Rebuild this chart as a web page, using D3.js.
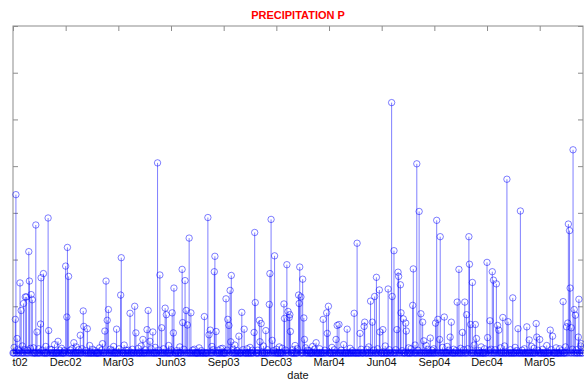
<!DOCTYPE html>
<html>
<head>
<meta charset="utf-8">
<script src="https://cdn.jsdelivr.net/npm/d3@7"></script>
<style>
  body { margin: 0; background: #fff; }
  svg { display: block; font-family: "Liberation Sans", Arial, sans-serif; }
</style>
</head>
<body>
<svg id="chart" width="584" height="380"></svg>
<script>
// Daily precipitation record, day index counted from 1 Oct 2002
var firstDay = "2002-10-01";
var lastDay = "2005-05-31";
var axisEnd = "2005-06-01";

// wet days
var wetDay = [4, 5, 7, 12, 14, 18, 21, 23, 27, 28, 31, 33, 39, 41, 47, 48, 52, 60, 61, 77,
  90, 92, 93, 95, 104, 115, 120, 121, 127, 153, 157, 159, 161, 163, 177, 184, 185, 200, 208, 210,
  222, 229, 231, 234, 239, 247, 251, 254, 260, 262, 272, 274, 275, 289, 290, 294, 296, 298, 301, 304,
  327, 333, 335, 337, 344, 345, 347, 364, 367, 369, 371, 372, 373, 386, 391, 395, 412, 413, 414, 421,
  422, 424, 432, 438, 439, 441, 443, 447, 463, 464, 468, 470, 472, 473, 474, 488, 489, 490, 492, 495,
  497, 498, 518, 530, 536, 537, 539, 552, 554, 557, 571, 583, 588, 593, 600, 601, 611, 614, 618, 621,
  626, 627, 632, 641, 647, 648, 651, 656, 658, 659, 662, 663, 667, 671, 672, 683, 684, 687, 690, 694,
  697, 700, 702, 713, 722, 724, 726, 729, 730, 737, 747, 749, 759, 762, 768, 772, 775, 779, 780, 782,
  785, 790, 792, 810, 811, 815, 819, 821, 826, 828, 830, 837, 844, 846, 854, 863, 867, 878, 882, 894,
  895, 900, 918, 922, 940, 946, 948, 949, 951, 952, 954, 957, 959, 961, 966, 967, 971];
var wetValue = [7.2, 33.9, 3.1, 15.0, 9.1, 10.6, 12.0, 12.0, 21.7, 15.4, 12.5, 11.4, 27.4, 4.5, 6.2, 16.1, 17.0, 28.9, 4.8, 2.5,
  18.6, 7.7, 22.6, 16.4, 2.2, 3.8, 9.0, 5.7, 5.2, 2.0, 4.7, 15.4, 7.0, 9.3, 5.1, 12.4, 20.4, 8.5, 10.0, 4.3,
  2.9, 5.0, 9.1, 2.5, 4.5, 40.7, 16.7, 5.4, 9.6, 8.2, 8.6, 4.3, 13.9, 17.9, 6.5, 15.5, 9.1, 6.0, 24.6, 8.6,
  7.8, 29.0, 3.9, 4.9, 17.4, 20.7, 4.6, 11.6, 7.2, 5.9, 13.4, 2.4, 16.6, 3.6, 8.7, 5.1, 4.4, 25.8, 10.8, 7.0,
  2.4, 6.3, 4.8, 10.4, 17.0, 28.6, 2.7, 20.8, 10.5, 7.4, 18.9, 8.9, 7.6, 8.2, 4.6, 12.4, 10.6, 18.4, 12.0, 15.8,
  7.5, 2.9, 2.2, 7.2, 8.6, 4.2, 10.0, 2.9, 5.9, 6.1, 5.1, 8.5, 23.5, 4.2, 5.7, 6.6, 11.1, 6.6, 12.1, 16.2,
  13.5, 4.5, 5.0, 13.7, 53.6, 12.1, 21.9, 5.0, 17.3, 16.4, 14.6, 8.6, 7.3, 6.4, 4.7, 10.2, 18.0, 1.7, 40.5, 30.3,
  8.4, 6.6, 2.6, 3.2, 6.4, 28.4, 7.2, 2.9, 24.9, 7.7, 3.4, 6.6, 10.9, 17.9, 4.4, 10.9, 8.2, 24.9, 19.0, 6.1,
  15.1, 6.1, 3.1, 19.4, 3.3, 6.9, 17.4, 15.6, 14.8, 5.9, 4.9, 7.6, 37.2, 6.7, 11.8, 5.2, 30.4, 5.6, 2.8, 6.3,
  3.4, 2.9, 4.9, 3.6, 11.0, 5.6, 6.4, 27.6, 26.2, 13.9, 5.4, 43.5, 9.3, 8.1, 3.4, 11.5, 2.0];

// drizzle days close to the baseline
var lightDay = [2, 9, 11, 16, 20, 25, 30, 35, 44, 50, 56, 63, 66, 71, 80, 83, 88, 98, 101, 108,
  112, 118, 124, 131, 136, 140, 148, 151, 166, 169, 172, 181, 190, 193, 197, 204, 214, 219, 226, 236,
  243, 249, 257, 266, 270, 280, 285, 292, 307, 310, 318, 322, 340, 342, 351, 355, 358, 366, 376, 379,
  383, 393, 400, 405, 409, 418, 428, 435, 445, 450, 455, 460, 466, 478, 482, 486, 500, 503, 506, 512,
  515, 524, 533, 545, 549, 561, 565, 576, 580, 595, 605, 608, 616, 623, 636, 643, 654, 665, 676, 680,
  692, 706, 709, 716, 719, 734, 742, 745, 753, 757, 765, 770, 777, 788, 796, 800, 806, 813, 817, 824,
  833, 840, 850, 858, 861, 870, 874, 886, 890, 897, 905, 912, 920, 928, 934, 938, 944, 956, 963, 970];
var lightValue = [1.2, 0.8, 0.5, 1.5, 0.7, 0.6, 1.0, 1.1, 0.9, 0.6, 1.4, 0.8, 0.7, 1.8, 0.6, 1.0, 0.5, 0.6, 0.9, 1.3,
  0.7, 0.9, 0.5, 1.6, 0.8, 0.5, 1.1, 0.6, 0.8, 0.5, 1.4, 0.9, 1.7, 0.6, 0.6, 0.8, 1.0, 1.5, 0.7, 0.9,
  1.2, 0.6, 0.9, 1.6, 0.7, 0.5, 1.3, 0.8, 0.6, 0.8, 1.1, 0.5, 1.4, 0.7, 0.6, 0.9, 1.0, 0.6, 0.8, 1.7,
  0.5, 0.7, 0.9, 1.2, 0.6, 0.6, 1.5, 0.7, 0.5, 0.8, 1.3, 1.0, 0.6, 0.7, 1.6, 0.9, 1.1, 0.6, 0.5, 1.4,
  0.8, 0.9, 0.6, 1.2, 0.7, 0.6, 1.8, 1.0, 0.5, 0.8, 0.8, 1.3, 0.6, 0.9, 1.5, 0.7, 0.7, 0.5, 1.1, 0.9,
  0.6, 1.6, 0.8, 0.6, 0.9, 1.2, 1.4, 0.6, 0.8, 0.5, 1.0, 0.7, 0.9, 1.7, 0.5, 1.3, 0.9, 0.6, 0.8, 0.7,
  1.1, 1.5, 0.7, 1.2, 0.5, 0.6, 0.9, 1.4, 1.0, 0.6, 0.8, 1.6, 0.7, 1.1, 0.9, 0.5, 1.3, 0.8, 0.7, 1.5];

var tickDates = ["2002-10-01", "2002-12-30", "2003-03-30", "2003-06-28", "2003-09-26", "2003-12-25",
  "2004-03-24", "2004-06-22", "2004-09-20", "2004-12-19", "2005-03-19"];
var tickLabels = ["Oct02", "Dec02", "Mar03", "Jun03", "Sep03", "Dec03",
  "Mar04", "Jun04", "Sep04", "Dec04", "Mar05"];
var yTicks = [0, 10, 20, 30, 40, 50, 60, 70];

var parse = d3.timeParse("%Y-%m-%d");
var start = parse(firstDay);

// one entry per day of record, dry days are zero
var lookup = {};
lightDay.forEach(function(d, i){ lookup[d] = lightValue[i]; });
wetDay.forEach(function(d, i){ lookup[d] = wetValue[i]; });
var days = d3.timeDay.range(start, d3.timeDay.offset(parse(lastDay), 1));
var series = days.map(function(t, i){ return {date: t, p: lookup[i] || 0}; });

var svg = d3.select("#chart");
var M = {left: 13, right: 583, top: 26, bottom: 353};
var axisColor = "#8c8c8c";

var x = d3.scaleTime()
    .domain([start, parse(axisEnd)])
    .range([M.left, M.right]);
var y = d3.scaleLinear()
    .domain([0, 70])
    .range([M.bottom, M.top]);

// box and ticks (matlab style: ticks inside on all four sides)
var tks = tickDates.map(parse);
svg.append("g")
    .attr("transform", "translate(0," + M.bottom + ")")
    .call(d3.axisTop(x).tickValues(tks).tickSize(5).tickFormat(""))
    .call(function(g){ g.select(".domain").remove(); });
svg.append("g")
    .attr("transform", "translate(0," + M.top + ")")
    .call(d3.axisBottom(x).tickValues(tks).tickSize(5).tickFormat(""))
    .call(function(g){ g.select(".domain").remove(); });
svg.append("g")
    .attr("transform", "translate(" + M.left + ",0)")
    .call(d3.axisRight(y).tickValues(yTicks).tickSize(5).tickFormat(""))
    .call(function(g){ g.select(".domain").remove(); });
svg.append("g")
    .attr("transform", "translate(" + M.right + ",0)")
    .call(d3.axisLeft(y).tickValues(yTicks).tickSize(5).tickFormat(""))
    .call(function(g){ g.select(".domain").remove(); });
svg.selectAll(".tick line").attr("stroke", axisColor);

svg.append("rect")
    .attr("x", M.left).attr("y", M.top)
    .attr("width", M.right - M.left).attr("height", M.bottom - M.top)
    .attr("fill", "none")
    .attr("stroke", axisColor)
    .attr("stroke-width", 1);

// stems
var stems = svg.append("g");
stems.selectAll("line")
    .data(series.filter(function(d){ return d.p > 0; }))
  .enter().append("line")
    .attr("x1", function(d){ return x(d.date); })
    .attr("x2", function(d){ return x(d.date); })
    .attr("y1", y(0))
    .attr("y2", function(d){ return y(d.p); })
    .attr("stroke", "#0000ff")
    .attr("stroke-opacity", 0.5)
    .attr("stroke-width", 1);

// baseline
svg.append("line")
    .attr("x1", M.left).attr("x2", M.right)
    .attr("y1", y(0)).attr("y2", y(0))
    .attr("stroke", "#0000ff")
    .attr("stroke-width", 1);

// markers
svg.append("g").selectAll("circle")
    .data(series)
  .enter().append("circle")
    .attr("cx", function(d){ return x(d.date); })
    .attr("cy", function(d){ return y(d.p); })
    .attr("r", 3.2)
    .attr("fill", "none")
    .attr("stroke", "#0000ff")
    .attr("stroke-opacity", 0.5)
    .attr("stroke-width", 1);

// tick labels, the figure is cropped on its left edge
svg.append("clipPath").attr("id", "crop")
  .append("rect").attr("x", 12).attr("y", 0).attr("width", 600).attr("height", 380);
svg.append("g")
    .attr("clip-path", "url(#crop)")
    .selectAll("text")
    .data(tks)
  .enter().append("text")
    .attr("x", function(d){ return x(d); })
    .attr("y", 366)
    .attr("text-anchor", "middle")
    .style("font-size", "11px")
    .style("fill", "#111")
    .text(function(d, i){ return tickLabels[i]; });

svg.append("text")
    .attr("x", (M.left + M.right) / 2)
    .attr("y", 379)
    .attr("text-anchor", "middle")
    .style("font-size", "11px")
    .style("fill", "#111")
    .text("date");

svg.append("text")
    .attr("x", (M.left + M.right) / 2)
    .attr("y", 18.5)
    .attr("text-anchor", "middle")
    .style("font-size", "11px")
    .style("font-weight", "bold")
    .style("fill", "#ff0000")
    .text("PRECIPITATION P");
</script>
</body>
</html>
